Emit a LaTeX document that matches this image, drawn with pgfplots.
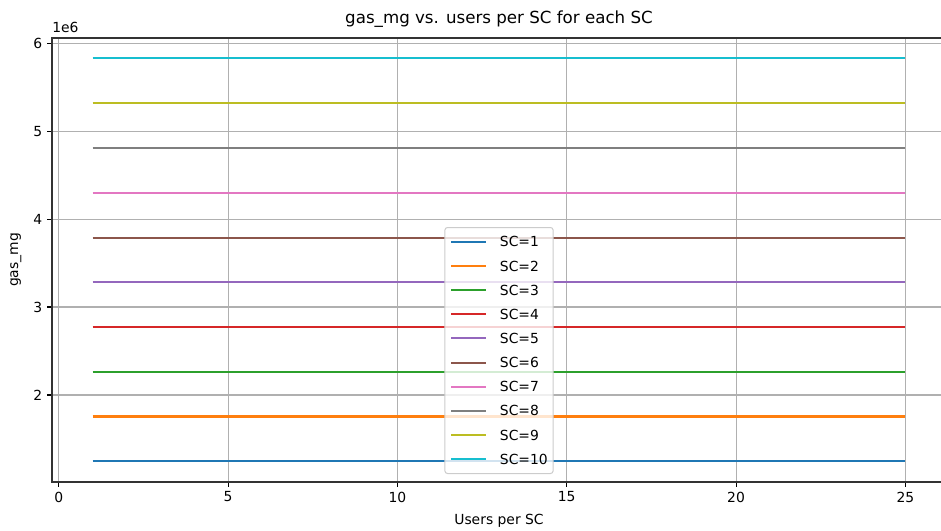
\documentclass[border=0pt]{standalone}
\usepackage{fontspec}
\setmainfont{DejaVu Sans}
\usepackage{pgfplots}
\pgfplotsset{compat=1.18}
\definecolor{c1}{HTML}{1F77B4}
\definecolor{c2}{HTML}{FF7F0E}
\definecolor{c3}{HTML}{2CA02C}
\definecolor{c4}{HTML}{D62728}
\definecolor{c5}{HTML}{9467BD}
\definecolor{c6}{HTML}{8C564B}
\definecolor{c7}{HTML}{E377C2}
\definecolor{c8}{HTML}{7F7F7F}
\definecolor{c9}{HTML}{BCBD22}
\definecolor{c10}{HTML}{17BECF}
\definecolor{gridc}{HTML}{B0B0B0}
\newcommand{\mplfont}{\fontsize{10.42}{12.5}\selectfont}
\begin{document}
\mplfont
\begin{tikzpicture}
\begin{axis}[name=ax, scale only axis, width=670.5pt, height=333pt,
  xmin=-0.2, xmax=26.2, ymin=1010500, ymax=6059500,
  xtick={0,5,10,15,20,25},
  ytick={2000000,3000000,4000000,5000000,6000000},
  yticklabels={2,3,4,5,6},
  scaled y ticks=false, scaled x ticks=false,
  /pgf/number format/assume math mode=true,
  tick label style={font=\mplfont, black},
  tick align=outside, major tick length=3.65pt,
  every tick/.style={black, line width=0.83pt},
  xtick pos=bottom, ytick pos=left,
  axis line style={line width=0.83pt, black!80},
  grid=major, major grid style={gridc, line width=0.83pt},
  xlabel={Users per SC}, ylabel={gas\_mg},
  xlabel style={font=\mplfont, at={(axis description cs:0.5,-0.0878)}, anchor=center, yshift=0pt},
  ylabel style={font=\mplfont, at={(axis description cs:-0.0403,0.5)}, anchor=center},
  title={gas\_mg vs. users per SC for each SC},
  title style={font=\fontsize{12.5}{15}\selectfont, at={(axis description cs:0.5,1.0248)}, anchor=center},
  legend cell align=left,
  legend image code/.code={\draw[#1, line width=1.56pt] (0pt,0pt) -- (26pt,0pt);},
  legend style={at={(0.5,0.018)}, anchor=south, draw=black!20, line width=0.75pt,
    rounded corners=2pt, fill=white, fill opacity=0.8, text opacity=1, draw opacity=1,
    font=\mplfont, row sep=10.5pt, column sep=9.75pt, inner xsep=4pt, inner ysep=7pt,
    nodes={inner sep=0pt, text height=7.6pt, text depth=0pt}},
  every axis plot/.append style={line width=1.56pt},
]
\addplot[c1] coordinates {(1,1250000) (25,1250000)};
\addlegendentry{SC=1}
\addplot[c2] coordinates {(1,1755000) (25,1755000)};
\addlegendentry{SC=2}
\addplot[c3] coordinates {(1,2262000) (25,2262000)};
\addlegendentry{SC=3}
\addplot[c4] coordinates {(1,2770000) (25,2770000)};
\addlegendentry{SC=4}
\addplot[c5] coordinates {(1,3280000) (25,3280000)};
\addlegendentry{SC=5}
\addplot[c6] coordinates {(1,3790000) (25,3790000)};
\addlegendentry{SC=6}
\addplot[c7] coordinates {(1,4300000) (25,4300000)};
\addlegendentry{SC=7}
\addplot[c8] coordinates {(1,4810000) (25,4810000)};
\addlegendentry{SC=8}
\addplot[c9] coordinates {(1,5320000) (25,5320000)};
\addlegendentry{SC=9}
\addplot[c10] coordinates {(1,5830000) (25,5830000)};
\addlegendentry{SC=10}
\end{axis}
\node[font=\mplfont, anchor=base west, inner sep=0pt] at ([yshift=3.75pt]ax.north west) {1e6};
\pgfresetboundingbox
\path[use as bounding box] ([xshift=-39pt,yshift=-36.75pt]ax.south west) rectangle ([xshift=666.75pt,yshift=28.5pt]ax.north west);
\end{tikzpicture}
\end{document}
